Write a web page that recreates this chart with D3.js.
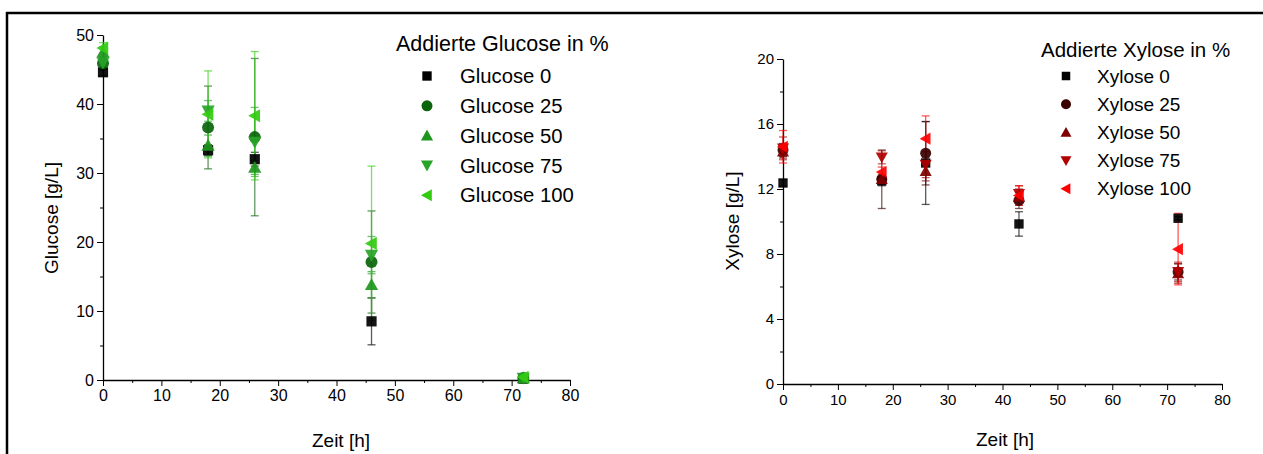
<!DOCTYPE html>
<html><head><meta charset="utf-8">
<script src="https://cdn.jsdelivr.net/npm/d3@7/dist/d3.min.js"></script>
<style>body{margin:0;background:#fff;} text{font-family:Arial,"Liberation Sans",sans-serif;fill:#000;}</style>
</head><body><svg id="c" width="1263" height="454"></svg>
<script>
// ---- data ----
const glucoseTimes = [0, 18, 26, 46, 72];
const glucoseNames = ["Glucose 0","Glucose 25","Glucose 50","Glucose 75","Glucose 100"];
const glucose0   = [44.6, 33.3, 32.0, 8.5, 0.2];
const glucose25  = [45.9, 36.6, 35.2, 17.1, 0.3];
const glucose50  = [47.5, 34.0, 30.8, 13.8, 0.3];
const glucose75  = [46.0, 39.0, 34.5, 18.1, 0.3];
const glucose100 = [48.1, 38.5, 38.3, 19.8, 0.4];
const glucose0Err   = [0.5, 0.8, 1.0, 3.4, 0.1];
const glucose25Err  = [0.8, 6.0, 11.4, 7.4, 0.1];
const glucose50Err  = [0.8, 1.5, 1.0, 1.9, 0.1];
const glucose75Err  = [0.8, 1.5, 5.0, 2.7, 0.1];
const glucose100Err = [0.8, 6.3, 9.3, 11.2, 0.1];
const glucoseXTicks = [0,10,20,30,40,50,60,70,80];
const glucoseYTicks = [0,10,20,30,40,50];

const xyloseTimes = [0, 18, 26, 43, 72];
const xyloseNames = ["Xylose 0","Xylose 25","Xylose 50","Xylose 75","Xylose 100"];
const xylose0   = [12.37, 12.5, 13.6, 9.85, 10.2];
const xylose25  = [14.4, 12.6, 14.2, 11.3, 6.9];
const xylose50  = [14.3, 12.6, 13.1, 11.5, 6.8];
const xylose75  = [14.5, 13.95, 13.5, 11.7, 6.9];
const xylose100 = [14.6, 13.05, 15.1, 11.6, 8.3];
const xylose0Err   = [0.2, 0.3, 2.55, 0.75, 0.1];
const xylose25Err  = [0.4, 1.8, 1.95, 0.5, 0.5];
const xylose50Err  = [0.4, 0.3, 0.6, 0.5, 0.6];
const xylose75Err  = [0.7, 0.4, 0.8, 0.5, 0.6];
const xylose100Err = [1.0, 0.3, 1.4, 0.6, 2.2];
const xyloseXTicks = [0,10,20,30,40,50,60,70,80];
const xyloseYTicks = [0,4,8,12,16,20];

const shapes = ["square","circle","up","down","left"];
const glucoseColors = ["#000000","#0b640b","#1e961e","#28a428","#33cc11"];
const xyloseColors  = ["#000000","#3a0000","#800000","#b00000","#ff0000"];

const svg = d3.select("#c");
// outer frame
svg.append("line").attr("x1",6).attr("x2",1263).attr("y1",13).attr("y2",13).attr("stroke","#000").attr("stroke-width",2.5);
svg.append("line").attr("x1",7).attr("x2",7).attr("y1",12).attr("y2",454).attr("stroke","#000").attr("stroke-width",2.5);

function marker(g, shape, x, y, s, color){
  const h = s/2;
  let el;
  if(shape==="square") el = g.append("rect").attr("x",x-h*0.85).attr("y",y-h*0.85).attr("width",s*0.85).attr("height",s*0.85);
  else if(shape==="circle") el = g.append("circle").attr("cx",x).attr("cy",y).attr("r",h);
  else {
    let pts;
    const a = h*1.1;
    if(shape==="up") pts=[[x,y-a],[x+a,y+a*0.8],[x-a,y+a*0.8]];
    if(shape==="down") pts=[[x,y+a],[x+a,y-a*0.8],[x-a,y-a*0.8]];
    if(shape==="left") pts=[[x-a,y],[x+a*0.8,y-a],[x+a*0.8,y+a]];
    el = g.append("polygon").attr("points",pts.map(p=>p.join(",")).join(" "));
  }
  el.attr("fill",color);
}

function panel(opt){
  const x = d3.scaleLinear().domain([0,80]).range(opt.xr);
  const y = d3.scaleLinear().domain(opt.yd).range(opt.yr);
  const g = svg.append("g");
  // axes
  const xa = g.append("g").attr("transform",`translate(0,${opt.yr[0]})`)
    .call(d3.axisBottom(x).tickValues(opt.xTicks).tickSize(6).tickSizeOuter(0).tickPadding(4));
  const xm = g.append("g").attr("transform",`translate(0,${opt.yr[0]})`)
    .call(d3.axisBottom(x).tickValues(d3.range(5,80,10)).tickSize(3).tickFormat(""));
  const ya = g.append("g").attr("transform",`translate(${opt.xr[0]},0)`)
    .call(d3.axisLeft(y).tickValues(opt.yTicks).tickSize(6).tickSizeOuter(0).tickPadding(3));
  const ym = g.append("g").attr("transform",`translate(${opt.xr[0]},0)`)
    .call(d3.axisLeft(y).tickValues(opt.yMinor).tickSize(3).tickFormat(""));
  [xa,xm,ya,ym].forEach(a=>{a.selectAll("path").attr("stroke","#000").attr("stroke-width",1.3);a.selectAll("line").attr("stroke","#000");});
  [xa,ya].forEach(a=>a.selectAll("text").attr("font-size",opt.tickFont).attr("fill","#000").style("font-family","Arial, 'Liberation Sans', sans-serif"));
  xm.select("path").remove(); ym.select("path").remove();
  // data
  opt.series.forEach((s,i)=>{
    const col = opt.colors[i];
    const eg = g.append("g").attr("stroke",col).attr("stroke-opacity",0.65).attr("stroke-width",1.3);
    opt.times.forEach((t,j)=>{
      const cx = x(t), v=s.vals[j], e=s.errs[j];
      eg.append("line").attr("x1",cx).attr("x2",cx).attr("y1",y(v-e)).attr("y2",y(v+e));
      [v-e,v+e].forEach(w=>eg.append("line").attr("x1",cx-4).attr("x2",cx+4).attr("y1",y(w)).attr("y2",y(w)));
    });
  });
  opt.series.forEach((s,i)=>{
    const mg = g.append("g").attr("opacity",0.92);
    opt.times.forEach((t,j)=>marker(mg, shapes[i], x(t), y(s.vals[j]), opt.msize, opt.colors[i]));
  });
  // axis titles
  g.append("text").attr("x",opt.xTitle[0]).attr("y",opt.xTitle[1]).attr("text-anchor","middle").attr("font-size",opt.titleFont).text("Zeit [h]");
  g.append("text").attr("transform",`translate(${opt.yTitle[0]},${opt.yTitle[1]}) rotate(-90)`).attr("text-anchor","middle").attr("font-size",opt.titleFont).text(opt.yLabel);
  // legend
  const L = opt.legend;
  g.append("text").attr("x",L.tx).attr("y",L.ty).attr("font-size",L.tf).text(L.title);
  opt.names.forEach((n,i)=>{
    const yy = L.y0 + i*L.dy;
    marker(g, shapes[i], L.mx, yy, L.ms, opt.colors[i]);
    g.append("text").attr("x",L.lx).attr("y",yy).attr("dy","0.35em").attr("font-size",L.lf).text(n);
  });
}

panel({
  xr:[103,570], yd:[0,50], yr:[380,35], xTicks:glucoseXTicks, yTicks:glucoseYTicks, yMinor:d3.range(5,50,10),
  times:glucoseTimes, colors:glucoseColors, names:glucoseNames, msize:12, tickFont:"16px", titleFont:"19px",
  series:[{vals:glucose0,errs:glucose0Err},{vals:glucose25,errs:glucose25Err},{vals:glucose50,errs:glucose50Err},{vals:glucose75,errs:glucose75Err},{vals:glucose100,errs:glucose100Err}],
  xTitle:[341,447], yTitle:[58,218], yLabel:"Glucose [g/L]",
  legend:{title:"Addierte Glucose in %", tx:396, ty:51, tf:"21.5px", mx:427, lx:460, y0:76, dy:29.8, ms:11, lf:"20.3px"}
});
panel({
  xr:[783,1222], yd:[0,20], yr:[384,59], xTicks:xyloseXTicks, yTicks:xyloseYTicks, yMinor:d3.range(2,20,4),
  times:xyloseTimes, colors:xyloseColors, names:xyloseNames, msize:11, tickFont:"15px", titleFont:"19px",
  series:[{vals:xylose0,errs:xylose0Err},{vals:xylose25,errs:xylose25Err},{vals:xylose50,errs:xylose50Err},{vals:xylose75,errs:xylose75Err},{vals:xylose100,errs:xylose100Err}],
  xTitle:[1005,446], yTitle:[739,221], yLabel:"Xylose [g/L]",
  legend:{title:"Addierte Xylose in %", tx:1041, ty:57, tf:"20.5px", mx:1066, lx:1097, y0:76, dy:28.2, ms:10, lf:"19px"}
});
</script></body></html>
